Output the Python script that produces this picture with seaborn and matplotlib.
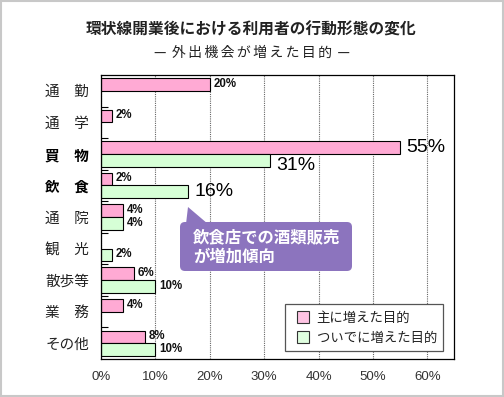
import numpy as np
import pandas as pd
import matplotlib
matplotlib.use('Agg')
import matplotlib.pyplot as plt
import matplotlib.transforms as mtransforms
from matplotlib.patches import Patch, FancyBboxPatch, Polygon, Rectangle
from matplotlib.legend_handler import HandlerPatch
import seaborn as sns

# ---------------- data ----------------
categories = ['通\u3000勤', '通\u3000学', '買\u3000物', '飲\u3000食', '通\u3000院',
              '観\u3000光', '散歩等', '業\u3000務', 'その他']
main_pct = [20, 2, 55, 2, 4, np.nan, 6, 4, 8]          # 主に増えた目的
side_pct = [np.nan, np.nan, 31, 16, 4, 2, 10, np.nan, 10]  # ついでに増えた目的
series_names = ['主に増えた目的', 'ついでに増えた目的']
emphasized = ['買\u3000物', '飲\u3000食']
x_ticks = [0, 10, 20, 30, 40, 50, 60]
x_tick_labels = ['0%', '10%', '20%', '30%', '40%', '50%', '60%']
title = '環状線開業後における利用者の行動形態の変化'
subtitle_core = '外出機会が増えた目的'
callout = '飲食店での酒類販売\nが増加傾向'

df = pd.DataFrame({
    'cat': categories * 2,
    'val': main_pct + side_pct,
    'type': [series_names[0]] * len(categories) + [series_names[1]] * len(categories),
})

# ---------------- style ----------------
sns.set_style('white')
plt.rcParams['font.family'] = ['Noto Sans CJK JP', 'DejaVu Sans']

pink = '#FFAAD4'
green = '#D6FFD6'
purple = '#8C74BE'

W, H = 504, 397
fig = plt.figure(figsize=(W / 100, H / 100), dpi=100)
px = mtransforms.Affine2D().scale(1 / W, 1 / H) + fig.transFigure

ax = fig.add_axes([101 / W, 1 - 359 / H, 353 / W, 284 / H])

sns.barplot(data=df, y='cat', x='val', hue='type', order=categories,
            hue_order=series_names, palette=[pink, green], orient='h',
            edgecolor='black', linewidth=0.8, width=0.8, legend=False,
            saturation=1, ax=ax)

ax.set_xlim(0, 64.9)
ax.set_ylim(len(categories) - 0.5, -0.5)
ax.set_xlabel('')
ax.set_ylabel('')

# grid
ax.set_axisbelow(True)
ax.xaxis.grid(True, linestyle=(0, (1, 1)), color='#666666', linewidth=0.8)
ax.yaxis.grid(False)

# ticks
ax.set_xticks(x_ticks, x_tick_labels)
ax.tick_params(axis='x', length=0, pad=9, labelsize=9.5, labelcolor='#333333')
for lbl in ax.get_xticklabels():
    lbl.set_fontfamily(['Liberation Sans', 'DejaVu Sans'])

ax.tick_params(axis='y', which='major', length=0, pad=8.5, labelsize=10.5,
               labelcolor='#222222')
for lbl in ax.get_yticklabels():
    if lbl.get_text() in emphasized:
        lbl.set_fontweight('bold')
        lbl.set_color('black')
ax.set_yticks(np.arange(0.5, len(categories) - 1, 1.0), minor=True)
ax.tick_params(axis='y', which='minor', left=True, direction='in', length=5,
               width=0.8, color='black')

for s in ax.spines.values():
    s.set_visible(True)
    s.set_color('black')
    s.set_linewidth(0.9)

# value labels
big_rows = set()
for ci, cont in enumerate(ax.containers):
    for bar in cont:
        w = bar.get_width()
        if not np.isfinite(w) or w <= 0:
            continue
        yc = bar.get_y() + bar.get_height() / 2
        row = int(round(yc - (-0.2 if ci == 0 else 0.2)))
        cat = categories[row]
        big = (cat in emphasized) and w >= 10
        if big:
            dy = -3.5 if (ci == 1 and row in big_rows) else 0
            big_rows.add(row)
            ax.annotate(f'{w:.0f}%', (w, yc), xytext=(4.5, dy), textcoords='offset points',
                        ha='left', va='center', fontsize=14, color='black',
                        family=['Liberation Sans', 'DejaVu Sans'])
        else:
            ax.annotate(f'{w:.0f}%', (w, yc), xytext=(3, 0.5), textcoords='offset points',
                        ha='left', va='center', fontsize=8.3, fontweight='bold',
                        color='#111111', family=['Liberation Sans', 'DejaVu Sans'])


# legend with square swatches inset from the frame
def square_patch(legend, orig_handle, xdescent, ydescent, width, height, fontsize):
    sq = 0.9 * fontsize
    return Rectangle((-xdescent + width - sq, -ydescent + (height - sq) / 2), sq, sq)


handles = [Patch(facecolor='#FFC4E4', edgecolor='#333333', linewidth=0.8, label=series_names[0]),
           Patch(facecolor='#E0FFE0', edgecolor='#333333', linewidth=0.8, label=series_names[1])]
leg = ax.legend(handles=handles, loc='lower right', bbox_to_anchor=(0.969, 0.028),
                frameon=True, fancybox=False, framealpha=1, edgecolor='#555555',
                fontsize=9.6, handlelength=1.35, handleheight=0.9, handletextpad=0.55,
                borderpad=0.45, labelspacing=0.5, borderaxespad=0,
                handler_map={Patch: HandlerPatch(patch_func=square_patch)})
leg.get_frame().set_linewidth(0.9)
for t in leg.get_texts():
    t.set_color('#222222')

# callout
box = FancyBboxPatch((180, H - 271), 172, 49, boxstyle='round,pad=0,rounding_size=5',
                     transform=px, facecolor=purple, edgecolor='none', zorder=5)
fig.add_artist(box)
tri = Polygon([(188, H - 207), (186, H - 224), (208, H - 224)], closed=True,
              transform=px, facecolor=purple, edgecolor='none', zorder=5)
fig.add_artist(tri)
fig.text(193, H - 247, callout, transform=px, ha='left', va='center', fontsize=11.8,
         fontweight='bold', color='white', linespacing=1.05, zorder=6)

# titles
fig.text(251, H - 30, title, transform=px, ha='center', va='center', fontsize=11.3,
         fontweight='bold', color='#222222')
subtitle = '— \u2006' + '\u2006'.join(subtitle_core) + '\u2006 —'
fig.text(252, H - 53, subtitle, transform=px, ha='center', va='center', fontsize=10,
         color='#222222')

# border
fig.add_artist(Rectangle((1, 1.5), 502, 395, transform=px, fill=False,
                         edgecolor='#c8c8c8', linewidth=1.5))

fig.savefig('out.png', dpi=100)
